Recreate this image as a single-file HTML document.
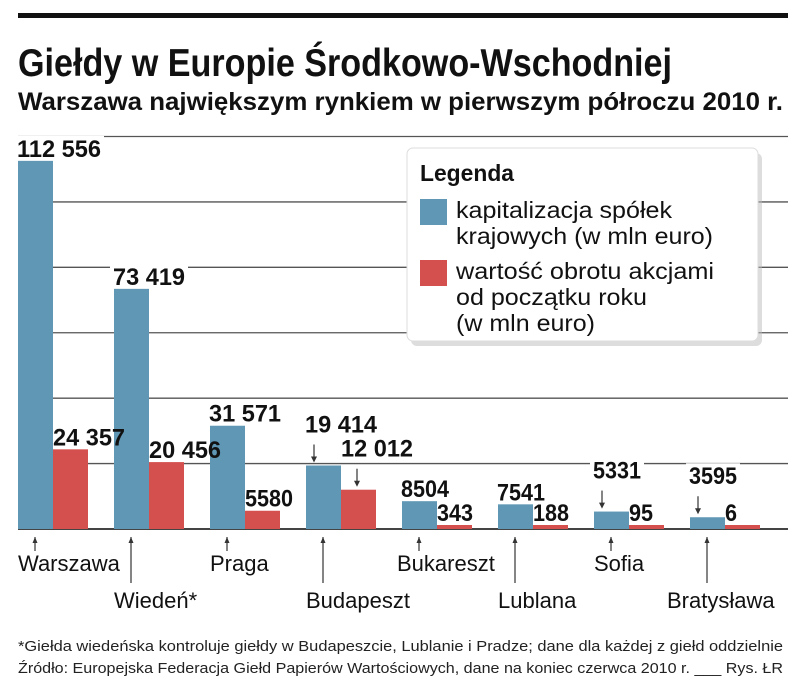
<!DOCTYPE html>
<html><head><meta charset="utf-8">
<style>
html,body{margin:0;padding:0;background:#fff;}
svg{display:block;}
text{font-family:"Liberation Sans Narrow","Liberation Sans",sans-serif;}
</style></head>
<body>
<svg id="chart" width="805" height="691" viewBox="0 0 805 691" xmlns="http://www.w3.org/2000/svg">
  <rect x="18" y="13" width="770" height="5" fill="#111"/>
  <text x="18" y="76" font-size="39" font-weight="bold" fill="#111" textLength="654" lengthAdjust="spacingAndGlyphs">Giełdy w Europie Środkowo-Wschodniej</text>
  <text x="18" y="110" font-size="25" font-weight="bold" fill="#111" textLength="765" lengthAdjust="spacingAndGlyphs">Warszawa największym rynkiem w pierwszym półroczu 2010 r.</text>
  <g id="grid"></g>
  <g id="labelbg"></g>
  <g id="bars"></g>
  <g id="labels"></g>
  <g id="cats"></g>
  <g>
    <rect x="409" y="150" width="351" height="193" rx="6" fill="#bbb" opacity="0.5" transform="translate(2,3)"/>
    <rect x="407" y="148" width="351" height="193" rx="6" fill="#fff" stroke="#ddd"/>
    <text x="420" y="181" font-size="23" font-weight="bold" fill="#111" textLength="94" lengthAdjust="spacingAndGlyphs">Legenda</text>
    <g>
      <rect x="420" y="199" width="27" height="26" fill="#5f97b4"/>
      <text x="456" y="218" font-size="23" fill="#111" textLength="216" lengthAdjust="spacingAndGlyphs">kapitalizacja spółek</text>
      <text x="456" y="244" font-size="23" fill="#111" textLength="257" lengthAdjust="spacingAndGlyphs">krajowych (w mln euro)</text>
    </g>
    <g>
      <rect x="420" y="260" width="27" height="26" fill="#d4504f"/>
      <text x="456" y="279" font-size="23" fill="#111" textLength="258" lengthAdjust="spacingAndGlyphs">wartość obrotu akcjami</text>
      <text x="456" y="305" font-size="23" fill="#111" textLength="191" lengthAdjust="spacingAndGlyphs">od początku roku</text>
      <text x="456" y="331" font-size="23" fill="#111" textLength="139" lengthAdjust="spacingAndGlyphs">(w mln euro)</text>
    </g>
  </g>
  <text x="18" y="651" font-size="15" fill="#222" textLength="765" lengthAdjust="spacingAndGlyphs">*Giełda wiedeńska kontroluje giełdy w Budapeszcie, Lublanie i Pradze; dane dla każdej z giełd oddzielnie</text>
  <text x="18" y="673" font-size="15" fill="#222" textLength="765" lengthAdjust="spacingAndGlyphs">Źródło: Europejska Federacja Giełd Papierów Wartościowych, dane na koniec czerwca 2010 r. ___  Rys. ŁR</text>
</svg>
<script>
const categories = ["Warszawa","Wiedeń*","Praga","Budapeszt","Bukareszt","Lublana","Sofia","Bratysława"];
const capitalization = [112556, 73419, 31571, 19414, 8504, 7541, 5331, 3595];
const turnover = [24357, 20456, 5580, 12012, 343, 188, 95, 6];
const capLabels = ["112 556","73 419","31 571","19 414","8504","7541","5331","3595"];
const turnLabels = ["24 357","20 456","5580","12 012","343","188","95","6"];
const capArrow = [false,false,false,true,false,false,true,true];
const turnArrow = [false,false,false,true,false,false,false,false];
const catLow = [false,true,false,true,false,true,false,true];
const gridTicks = [20000,40000,60000,80000,100000,120000];

const NS="http://www.w3.org/2000/svg";
const baseY=529, plotH=392.5, maxV=120000, x0=18, pitch=96, bw=35;
function y(v){return baseY - v/maxV*plotH;}
function gx(i){return x0 + i*pitch;}
function mk(tag,attrs,parent){const e=document.createElementNS(NS,tag);for(const k in attrs)e.setAttribute(k,attrs[k]);parent.appendChild(e);return e;}
const grid=document.getElementById('grid'), bg=document.getElementById('labelbg'), bars=document.getElementById('bars'), labels=document.getElementById('labels'), cats=document.getElementById('cats');

gridTicks.forEach(t=>{
  const l=mk('line',{x1:18,x2:788,y1:y(t),y2:y(t),stroke:'#555','stroke-width':1.3},grid);
  
  
});
const base=mk('line',{x1:18,x2:788,y1:baseY,y2:baseY,stroke:'#444','stroke-width':2},grid);



function valueLabel(text,x,top,arrow,ax,name){
  let by = arrow ? top-33 : Math.min(top-4,526);
  const w = text.length*12;
  mk('rect',{x:x-3,y:by-21,width:w+6,height:24,fill:'#fff'},bg);
  const t=mk('text',{x:x,y:by,'font-size':24,'font-weight':'bold',fill:'#111',textLength:w,lengthAdjust:'spacingAndGlyphs'},labels);
  t.textContent=text;
  
  
  if(arrow){
    mk('line',{x1:ax,x2:ax,y1:top-21,y2:top-5,stroke:'#333','stroke-width':1.2},labels);
    mk('path',{d:`M${ax-3} ${top-9} L${ax} ${top-3} L${ax+3} ${top-9} Z`,fill:'#333'},labels);
  }
}

categories.forEach((c,i)=>{
  const bx=gx(i), rx=bx+bw;
  const ct=y(capitalization[i]), rt=y(turnover[i]);
  const b=mk('rect',{x:bx,y:ct,width:bw,height:baseY-ct,fill:'#5f97b4'},bars);
  
  
  const r=mk('rect',{x:rx,y:rt,width:bw,height:Math.max(baseY-rt,4),fill:'#d4504f'},bars);
  if(baseY-rt<4) r.setAttribute('y',baseY-4);
  
  
  valueLabel(capLabels[i],bx-1,Math.min(ct,baseY-4),capArrow[i],bx+8,'value-capitalization-'+i);
  valueLabel(turnLabels[i],rx,Math.min(rt,baseY-4),turnArrow[i],rx+16,'value-turnover-'+i);
  const tx=bx+17;
  const low=catLow[i];
  mk('line',{x1:tx,x2:tx,y1:537,y2:low?583:551,stroke:'#333','stroke-width':1.2},cats);
  mk('path',{d:`M${tx-2.5} 543 L${tx} 537 L${tx+2.5} 543 Z`,fill:'#333'},cats);
  const lx = low ? (i===7 ? 667 : bx) : (i===4 ? 397 : bx);
  const ct2=mk('text',{x:lx,y:low?608:571,'font-size':22,fill:'#111'},cats);
  ct2.textContent=c;
  
  
});
</script>
</body></html>
